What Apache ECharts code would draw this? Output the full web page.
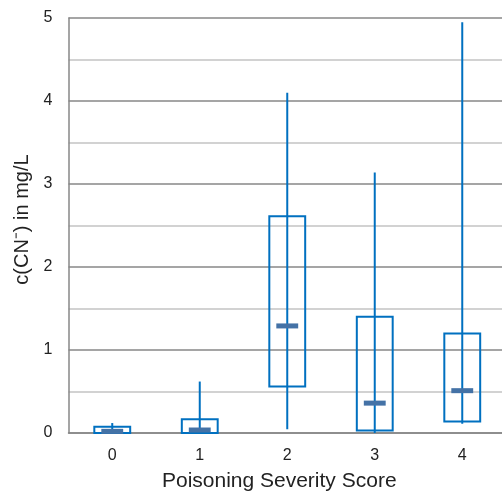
<!DOCTYPE html>
<html>
<head>
<meta charset="utf-8">
<script src="https://cdn.jsdelivr.net/npm/echarts@6/dist/echarts.min.js"></script>
<style>html,body{margin:0;padding:0;background:#fff}#c{width:502px;height:502px}</style>
</head>
<body>
<div id="c"></div>
<script>
var categories = ['0', '1', '2', '3', '4'];
var mins    = [0.00, 0.00, 0.045, 0.00, 0.11];
var q1s     = [0.00, 0.00, 0.56, 0.03, 0.14];
var medians = [0.02, 0.036, 1.29, 0.36, 0.51];
var q3s     = [0.076, 0.165, 2.61, 1.40, 1.20];
var maxs    = [0.12, 0.62, 4.10, 3.14, 4.95];
var yTicks  = [0, 1, 2, 3, 4, 5];

var data = categories.map(function (c, i) {
  return [i, mins[i], q1s[i], medians[i], q3s[i], maxs[i]];
});

var chart = echarts.init(document.getElementById('c'));
chart.setOption({
  animation: false,
  backgroundColor: '#fff',
  textStyle: { fontFamily: 'Liberation Sans, Arial, sans-serif' },
  grid: { left: 68.5, top: 18, width: 437.5, bottom: 69, containLabel: false, outerBoundsMode: 'none' },
  xAxis: {
    type: 'category',
    data: categories,
    boundaryGap: true,
    name: 'Poisoning Severity Score',
    nameLocation: 'middle',
    nameGap: 38,
    nameTextStyle: { fontSize: 21, color: '#222', padding: [0, 16, 0, 0] },
    axisLine: { show: true, lineStyle: { color: '#878787', width: 1.5 } },
    axisTick: { show: false },
    axisLabel: { fontSize: 16, color: '#222', margin: 15 },
    splitLine: { show: false }
  },
  yAxis: {
    type: 'value',
    min: yTicks[0],
    max: yTicks[yTicks.length - 1],
    interval: 1,
    name: 'c(CN\u207B) in mg/L',
    nameLocation: 'middle',
    nameGap: 36,
    nameTextStyle: { fontSize: 20, color: '#222', padding: [0, 0, 0, 12] },
    axisLine: { show: true, lineStyle: { color: '#878787', width: 1.5 } },
    axisTick: { show: false },
    axisLabel: { fontSize: 16, color: '#222', margin: 16 },
    splitLine: { show: true, lineStyle: { color: '#878787', width: 1.5 } },
    minorTick: { show: false, splitNumber: 2 },
    minorSplitLine: { show: true, lineStyle: { color: '#c4c4c4', width: 1.5 } }
  },
  series: [{
    type: 'custom',
    data: data,
    clip: false,
    renderItem: function (params, api) {
      var x = api.value(0);
      var pMin = api.coord([x, api.value(1)]);
      var pQ1 = api.coord([x, api.value(2)]);
      var pMed = api.coord([x, api.value(3)]);
      var pQ3 = api.coord([x, api.value(4)]);
      var pMax = api.coord([x, api.value(5)]);
      var band = api.size([1, 0])[0];
      var bw = band * 0.41;
      var mw = band * 0.25;
      var cx = pQ1[0];
      return {
        type: 'group',
        children: [
          {
            type: 'rect',
            shape: { x: cx - bw / 2, y: pQ3[1], width: bw, height: pQ1[1] - pQ3[1] },
            style: { fill: 'none', stroke: '#0070C0', lineWidth: 2 }
          },
          {
            type: 'line',
            shape: { x1: cx, y1: pMin[1], x2: cx, y2: pMax[1] },
            style: { stroke: '#0070C0', lineWidth: 2 }
          },
          {
            type: 'rect',
            shape: { x: cx - mw / 2, y: pMed[1] - 2.5, width: mw, height: 5 },
            style: { fill: '#4472A6', stroke: null }
          }
        ]
      };
    }
  }]
});
</script>
</body>
</html>
